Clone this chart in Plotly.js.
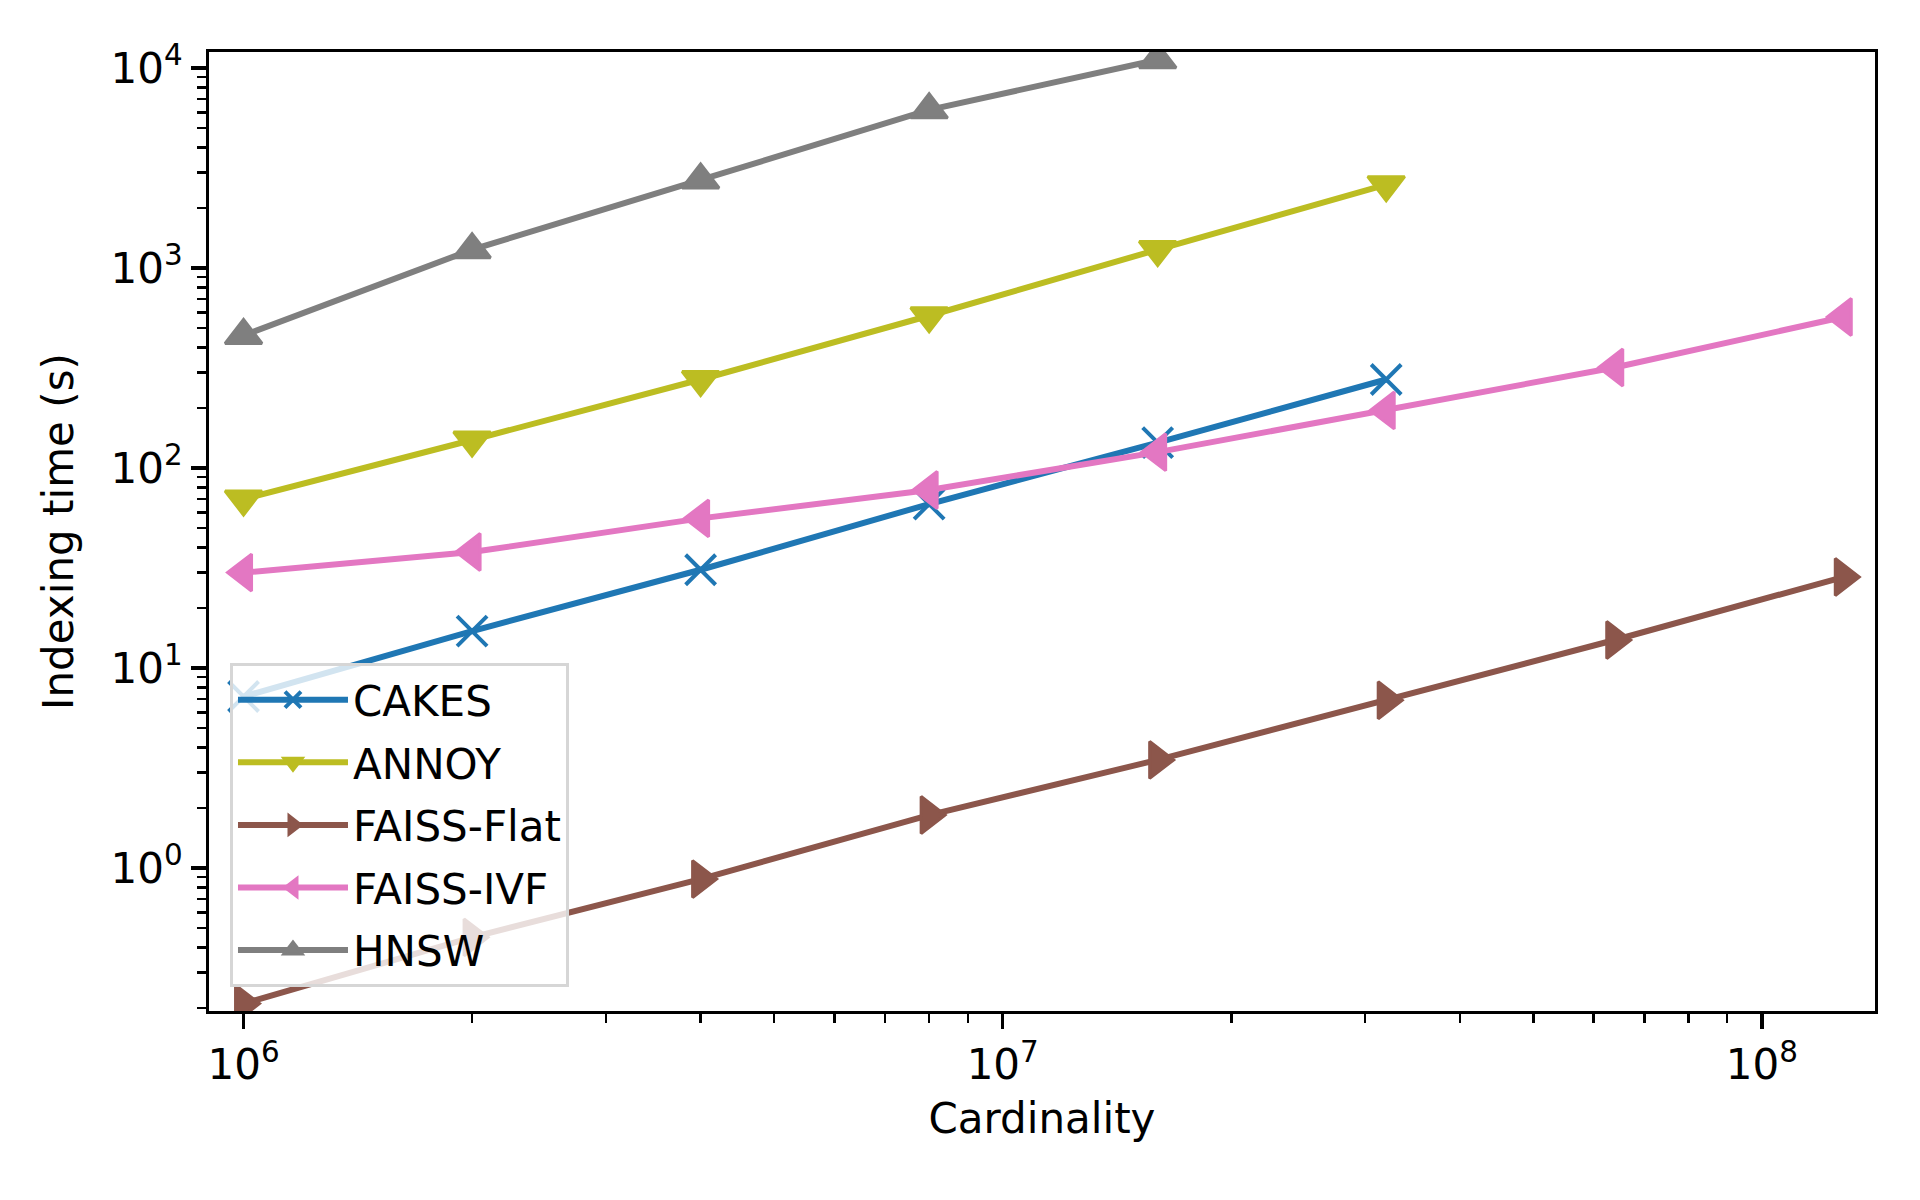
<!DOCTYPE html>
<html>
<head>
<meta charset="utf-8">
<script src="https://cdn.plot.ly/plotly-3.0.1.min.js"></script>
<style>
  html, body { margin: 0; padding: 0; background: #fff; }
  #chart { width: 1920px; height: 1200px; }
</style>
</head>
<body>
<div id="chart"></div>
<script>
// cardinalities (number of points)
var cardinality = [1e6, 2e6, 4e6, 8e6, 16e6, 32e6, 64e6, 128e6];

// indexing time in seconds
var cakes = [7.2, 15.3, 31, 66, 134, 277];
var annoy = [70, 138, 277, 577, 1236, 2610];
var faissFlat = [0.21, 0.45, 0.88, 1.84, 3.47, 6.9, 13.8, 28.5];
var faissIvf = [30, 38, 56, 77.6, 120, 194, 318, 569];
var hnsw = [460, 1235, 2755, 6180, 11000];

var xTickVals = [1e6, 1e7, 1e8];
var xTickText = ['10<sup>6</sup>', '10<sup>7</sup>', '10<sup>8</sup>'];
var yTickVals = [1, 10, 100, 1000, 10000];
var yTickText = ['10<sup>0</sup>', '10<sup>1</sup>', '10<sup>2</sup>', '10<sup>3</sup>', '10<sup>4</sup>'];

function series(name, ys, color, symbol) {
  var isX = symbol === 'x-thin';
  return {
    type: 'scatter',
    mode: 'lines+markers',
    name: name,
    legendgroup: name,
    x: cardinality.slice(0, ys.length),
    y: ys,
    line: { color: color, width: 6 },
    marker: {
      symbol: symbol,
      color: color,
      size: isX ? 30 : 32,
      line: { color: color, width: isX ? 4 : 3 }
    }
  };
}

var data = [
  series('CAKES', cakes, '#1f77b4', 'x-thin'),
  series('ANNOY', annoy, '#bcbd22', 'triangle-down'),
  series('FAISS-Flat', faissFlat, '#8c564b', 'triangle-right'),
  series('FAISS-IVF', faissIvf, '#e377c2', 'triangle-left'),
  series('HNSW', hnsw, '#7f7f7f', 'triangle-up')
];

var axisCommon = {
  type: 'log',
  showgrid: false,
  zeroline: false,
  showline: true,
  linecolor: 'black',
  linewidth: 3.3,
  mirror: true,
  ticks: 'outside',
  ticklen: 14.6,
  tickwidth: 3.3,
  tickcolor: 'black',
  tickfont: { family: 'DejaVu Sans', size: 42, color: 'black' },
  minor: { ticks: 'outside', ticklen: 8.3, tickwidth: 2.5, tickcolor: 'black', dtick: 'D1', showgrid: false }
};

var layout = {
  width: 1920,
  height: 1200,
  margin: { l: 209, r: 45, t: 52, b: 189 },
  paper_bgcolor: 'white',
  plot_bgcolor: 'white',
  font: { family: 'DejaVu Sans', size: 42, color: 'black' },
  showlegend: true,
  xaxis: Object.assign({}, axisCommon, {
    range: [5.9545, 8.149],
    tickmode: 'array',
    tickvals: xTickVals,
    ticktext: xTickText,
    title: { text: 'Cardinality', font: { family: 'DejaVu Sans', size: 42 }, standoff: 16 }
  }),
  yaxis: Object.assign({}, axisCommon, {
    range: [-0.715, 4.08],
    tickmode: 'array',
    tickvals: yTickVals,
    ticktext: yTickText,
    title: { text: 'Indexing time (s)', font: { family: 'DejaVu Sans', size: 42 }, standoff: 24 }
  }),
  legend: {
    x: 0.0126,
    y: 0.363,
    xanchor: 'left',
    yanchor: 'top',
    traceorder: 'grouped',
    tracegroupgap: 5,
    bgcolor: 'rgba(255,255,255,0.8)',
    bordercolor: '#d6d6d6',
    borderwidth: 3,
    font: { family: 'DejaVu Sans', size: 42, color: 'black' },
    itemwidth: 110
  }
};

Plotly.newPlot('chart', data, layout, { displayModeBar: false, staticPlot: true });
</script>
</body>
</html>
